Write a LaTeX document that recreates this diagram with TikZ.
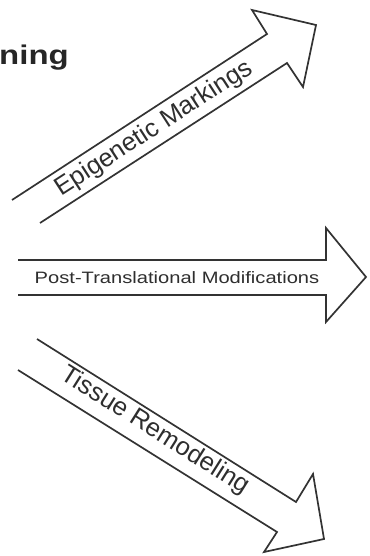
\documentclass[tikz,border=0pt]{standalone}
\usepackage{fontspec}
\setmainfont{Liberation Sans}

\tikzset{
  bigarrow/.style={draw=black!80, line width=1.7pt, line join=miter},
  arrowlabel/.style={text=black!82, inner sep=0pt, font=\fontsize{25.5}{25.5}\selectfont},
  stretched/.style={transform shape},
}

\begin{document}
\begin{tikzpicture}[x=0.8197pt, y=-1pt, xscale=1.22]
    \useasboundingbox (0,0) rectangle (369,556);

    % title, cut off at the left
    \node[stretched, anchor=base east, inner sep=0pt, text=black!85,
          font=\bfseries\fontsize{27}{27}\selectfont] (title) at (69,65) {ning};

    % the three open arrows
    \draw[bigarrow] (12,200) -- (267,34) -- (252,10) -- (316,25) -- (303,87) -- (287,63) -- (40,223);
    \draw[bigarrow] (18,260) -- (326,260) -- (326,228) -- (366,277) -- (326,322) -- (326,295) -- (18,295);
    \draw[bigarrow] (37,339) -- (296,502) -- (313,474) -- (324,539) -- (264,552) -- (277,532) -- (18,370);

    % labels
    \node[arrowlabel, rotate=32.9] (epi) at (154,129) {Epigenetic Markings};
    \node[arrowlabel, stretched, anchor=base, font=\fontsize{16.5}{16.5}\selectfont] (ptm) at (177,283.5) {Post-Translational Modifications};
    \node[arrowlabel, rotate=-32.2] (tissue) at (155,431) {Tissue Remodeling};
\end{tikzpicture}
\end{document}
